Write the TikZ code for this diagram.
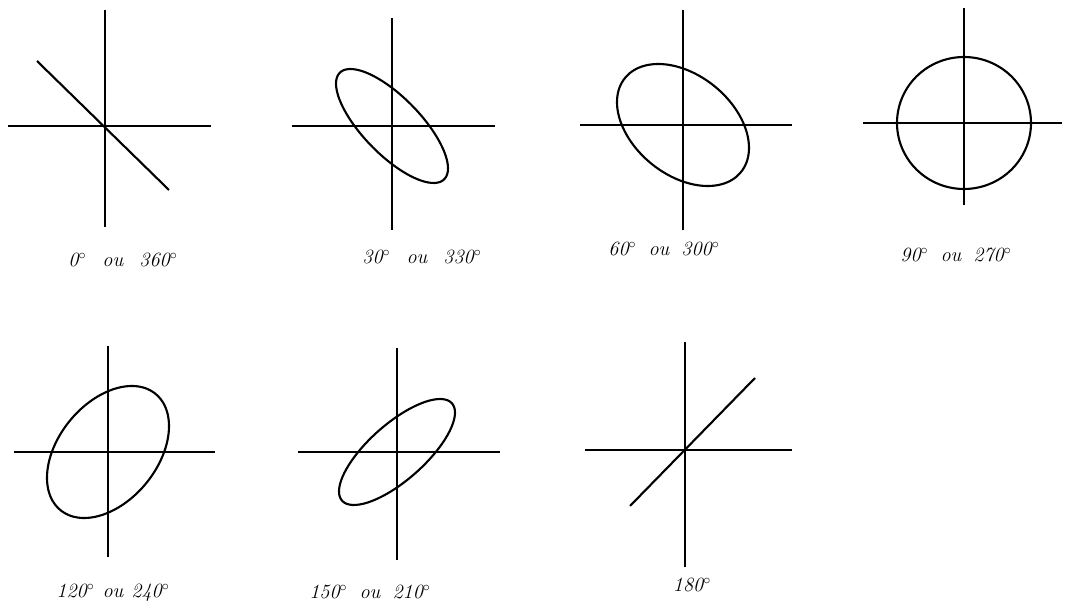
\documentclass[tikz,border=0pt]{standalone}
\usepackage{tikz}
\usetikzlibrary{positioning}

\begin{document}
\begin{tikzpicture}[x=0.025cm, y=-0.025cm,
    axis/.style={line width=0.8pt},
    trace/.style={line width=1.5pt, line join=round},
    phaselabel/.style={font=\itshape\Large, inner sep=1pt}]
    \useasboundingbox (0,0) rectangle (1067,609);

    % Top row: 0, 30, 60, 90 degrees
    \begin{scope}[shift={(105,126)}]
        \draw[axis] (0,-116) -- (0,101);
        \draw[axis] (-97,0) -- (106,0);
        \draw[trace] (-68,-65) -- (64,64);
    \end{scope}
    \node[phaselabel] (l0) at (123,260) {0${}^\circ$\hspace{0.8em}ou\hspace{0.8em}360${}^\circ$};

    \begin{scope}[shift={(392,126)}]
        \draw[axis] (0,-108) -- (0,104);
        \draw[axis] (-100,0) -- (103,0);
        \draw[trace] plot[smooth cycle, domain=0:355, samples=72]
            ({56*sin(\x)}, {57*sin(\x+42)});
    \end{scope}
    \node[phaselabel] (l30) at (422,257) {30${}^\circ$\hspace{0.8em}ou\hspace{0.8em}330${}^\circ$};

    \begin{scope}[shift={(683,125)}]
        \draw[axis] (0,-115) -- (0,105);
        \draw[axis] (-103,0) -- (109,0);
        \draw[trace] plot[smooth cycle, domain=0:355, samples=72]
            ({66*sin(\x)}, {61*sin(\x+68)});
    \end{scope}
    \node[phaselabel] (l60) at (664,249) {60${}^\circ$\hspace{0.6em}ou\hspace{0.6em}300${}^\circ$};

    \begin{scope}[shift={(964,123)}]
        \draw[axis] (0,-115) -- (0,82);
        \draw[axis] (-101,0) -- (98,0);
        \draw[trace] plot[smooth cycle, domain=0:355, samples=72]
            ({67*sin(\x)}, {66*sin(\x+90)});
    \end{scope}
    \node[phaselabel] (l90) at (956,255) {90${}^\circ$\hspace{0.6em}ou\hspace{0.6em}270${}^\circ$};

    % Bottom row: 120, 150, 180 degrees
    \begin{scope}[shift={(108,452)}]
        \draw[axis] (0,-106) -- (0,105);
        \draw[axis] (-94,0) -- (107,0);
        \draw[trace] plot[smooth cycle, domain=0:355, samples=72]
            ({61*sin(\x)}, {66*sin(\x+113)});
    \end{scope}
    \node[phaselabel] (l120) at (113,593) {120${}^\circ$\hspace{0.4em}ou\hspace{0.4em}240${}^\circ$};

    \begin{scope}[shift={(397,452)}]
        \draw[axis] (0,-104) -- (0,108);
        \draw[axis] (-99,0) -- (103,0);
        \draw[trace] plot[smooth cycle, domain=0:355, samples=72]
            ({58*sin(\x)}, {53*sin(\x+138)});
    \end{scope}
    \node[phaselabel] (l150) at (370,592) {150${}^\circ$\hspace{0.6em}ou\hspace{0.6em}210${}^\circ$};

    \begin{scope}[shift={(685,450)}]
        \draw[axis] (0,-108) -- (0,117);
        \draw[axis] (-100,0) -- (107,0);
        \draw[trace] (-55,56) -- (70,-72);
    \end{scope}
    \node[phaselabel] (l180) at (692,585) {180${}^\circ$};
\end{tikzpicture}
\end{document}
